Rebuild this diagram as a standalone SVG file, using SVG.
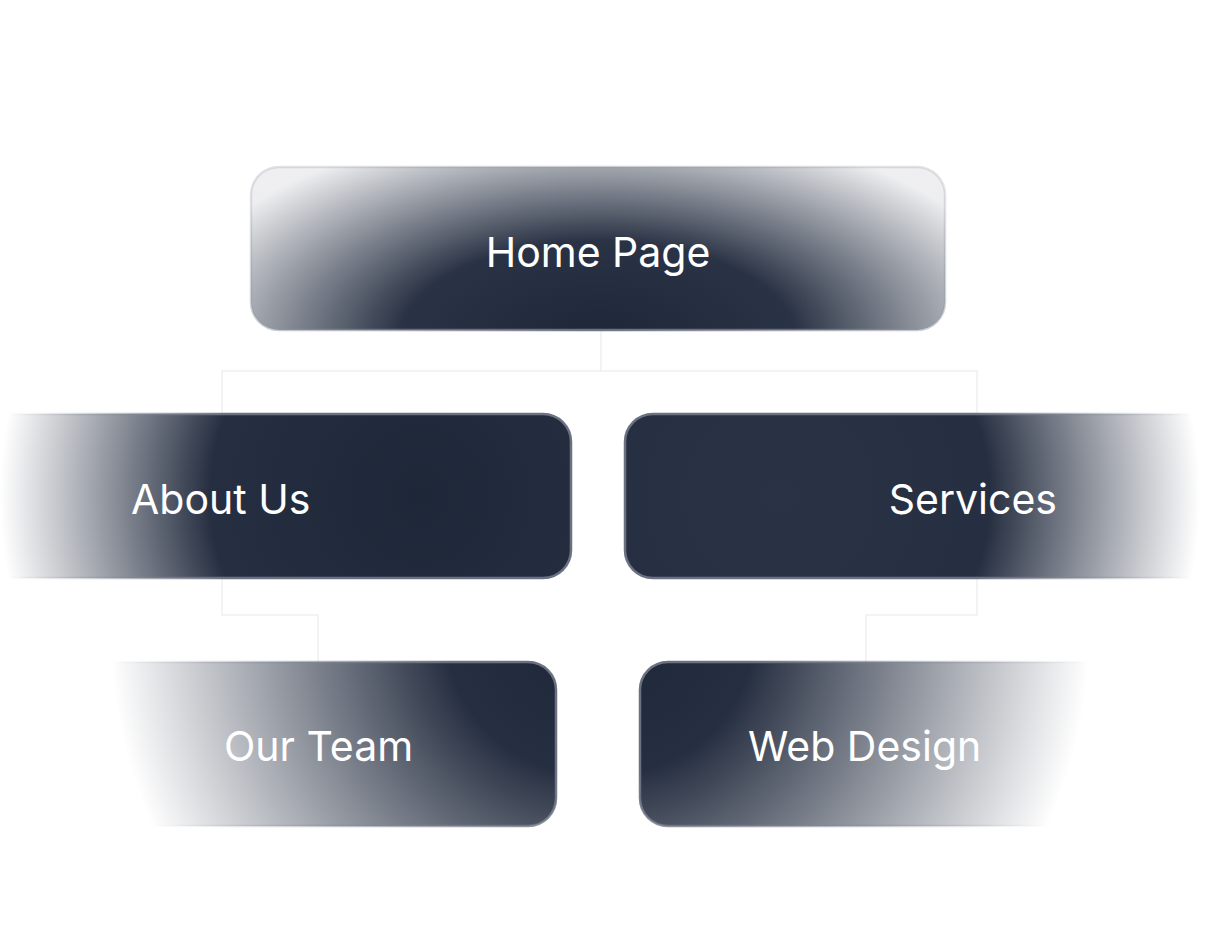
<svg xmlns="http://www.w3.org/2000/svg" width="1209" height="925" viewBox="0 0 1209 925">
<defs>
<radialGradient id="gH" gradientUnits="userSpaceOnUse" cx="598" cy="340" r="440" gradientTransform="translate(598 340) scale(1 0.5) translate(-598 -340)">
<stop offset="0" stop-color="#1e2738"/><stop offset="0.45" stop-color="#2a3345"/><stop offset="1" stop-color="#2a3345" stop-opacity="0.08"/></radialGradient>
<radialGradient id="gA" gradientUnits="userSpaceOnUse" cx="420" cy="496" r="420">
<stop offset="0" stop-color="#1e2738"/><stop offset="0.5" stop-color="#262f41"/><stop offset="1" stop-color="#2a3345" stop-opacity="0"/></radialGradient>
<radialGradient id="gS" gradientUnits="userSpaceOnUse" cx="780" cy="496" r="420">
<stop offset="0" stop-color="#2a3345"/><stop offset="0.5" stop-color="#262f41"/><stop offset="1" stop-color="#2a3345" stop-opacity="0"/></radialGradient>
<radialGradient id="gT" gradientUnits="userSpaceOnUse" cx="590" cy="630" r="480">
<stop offset="0" stop-color="#1e2738"/><stop offset="0.3" stop-color="#262f41"/><stop offset="1" stop-color="#2a3345" stop-opacity="0"/></radialGradient>
<radialGradient id="gW" gradientUnits="userSpaceOnUse" cx="610" cy="630" r="480">
<stop offset="0" stop-color="#1e2738"/><stop offset="0.3" stop-color="#262f41"/><stop offset="1" stop-color="#2a3345" stop-opacity="0"/></radialGradient>
<radialGradient id="sH" href="#gH"><stop offset="0" stop-color="#6b7180"/><stop offset="1" stop-color="#9aa0ab" stop-opacity="0.3"/></radialGradient>
<radialGradient id="sA" href="#gA"><stop offset="0" stop-color="#6b7180"/><stop offset="0.5" stop-color="#6b7180"/><stop offset="1" stop-color="#9aa0ab" stop-opacity="0"/></radialGradient>
<radialGradient id="sS" href="#gS"><stop offset="0" stop-color="#6b7180"/><stop offset="0.5" stop-color="#6b7180"/><stop offset="1" stop-color="#9aa0ab" stop-opacity="0"/></radialGradient>
<radialGradient id="sT" href="#gT"><stop offset="0" stop-color="#6b7180"/><stop offset="0.3" stop-color="#6b7180"/><stop offset="1" stop-color="#9aa0ab" stop-opacity="0"/></radialGradient>
<radialGradient id="sW" href="#gW"><stop offset="0" stop-color="#6b7180"/><stop offset="0.3" stop-color="#6b7180"/><stop offset="1" stop-color="#9aa0ab" stop-opacity="0"/></radialGradient>
</defs>
<style>
.c{fill:none;stroke:#f0f0f0;stroke-width:1.5}
.n rect{stroke-width:2.5}
text{font-family:Inter,"Liberation Sans",sans-serif;font-size:41px;fill:#fff}
</style>
<rect width="1209" height="925" fill="#fff"/>
<g id="connectors">
<path class="c" d="M601 330V371M222 414V371H977V414"/>
<path class="c" d="M222 578V615H318V662"/>
<path class="c" d="M977 578V615H866V662"/>
</g>
<g id="home" class="n"><rect x="251" y="167" width="694" height="163" rx="28" fill="url(#gH)" stroke="url(#sH)"/><text x="598" y="267" text-anchor="middle">Home Page</text></g>
<g id="about" class="n"><rect x="-30" y="414" width="601" height="164" rx="28" fill="url(#gA)" stroke="url(#sA)"/><text x="131" y="514">About Us</text></g>
<g id="services" class="n"><rect x="625" y="414" width="620" height="164" rx="28" fill="url(#gS)" stroke="url(#sS)"/><text x="1057" y="514" text-anchor="end">Services</text></g>
<g id="team" class="n"><rect x="90" y="662" width="466" height="164" rx="28" fill="url(#gT)" stroke="url(#sT)"/><text x="224" y="761">Our Team</text></g>
<g id="web" class="n"><rect x="640" y="662" width="470" height="164" rx="28" fill="url(#gW)" stroke="url(#sW)"/><text x="748" y="761">Web Design</text></g>
</svg>
